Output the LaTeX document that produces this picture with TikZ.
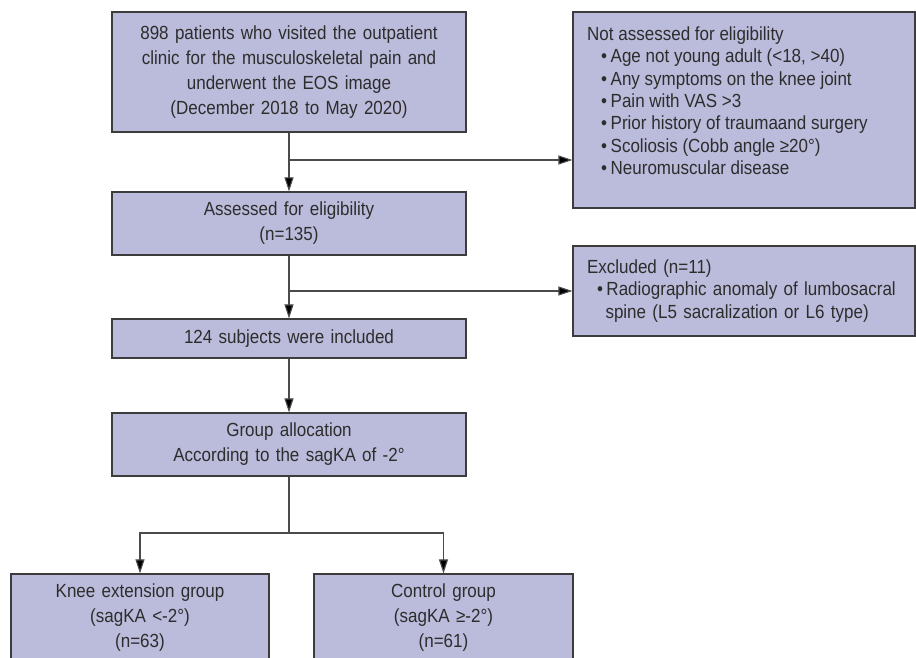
\documentclass[tikz,border=0pt]{standalone}
\usepackage{fontspec}
\setmainfont{Liberation Sans}[FakeStretch=0.895]
\usetikzlibrary{arrows.meta,calc}
\definecolor{boxfill}{RGB}{187,187,219}
\definecolor{boxline}{RGB}{60,60,60}
\definecolor{conn}{RGB}{75,75,75}
\definecolor{txt}{RGB}{45,45,45}
\tikzset{
  cbox/.style={draw=boxline, line width=1.2pt, fill=boxfill, inner sep=0pt,
    text=txt, align=center, text width=340pt,
    font=\fontsize{19}{25}\selectfont},
  rbox/.style={draw=boxline, line width=1.2pt, fill=boxfill, inner sep=0pt,
    minimum width=342pt, text width=320pt, inner xsep=11pt, align=left,
    text=txt, font=\fontsize{19}{22.4}\selectfont},
  rtext/.style={inner sep=0pt, align=left, text=txt,
    font=\fontsize{19}{22.4}\selectfont},
  conline/.style={draw=conn, line width=1.1pt},
  arr/.style={conline, -{Triangle[length=14pt,width=9pt,fill=black]}}
}
\newcommand{\bul}[1]{\hspace*{#1}\makebox[9.5pt][l]{•}}
\begin{document}
\begin{tikzpicture}[x=1pt,y=-1pt]
\clip (0,0) rectangle (916,658);
\fill[white] (0,0) rectangle (916,658);
% left column
\node[cbox, minimum width=354pt, minimum height=120pt] (b1) at (289,72)
  {898 patients who visited the outpatient\\clinic for the musculoskeletal pain and\\underwent the EOS image\\(December 2018 to May 2020)};
\node[cbox, minimum width=354pt, minimum height=63pt] (b2) at (289,223.5)
  {Assessed for eligibility\\(n=135)};
\node[cbox, minimum width=354pt, minimum height=39pt] (b3) at (289,338.5)
  {124 subjects were included};
\node[cbox, minimum width=354pt, minimum height=63pt] (b4) at (289,444.5)
  {Group allocation\\According to the sagKA of -2°};
\node[cbox, text width=250pt, minimum width=258pt, minimum height=88pt] (knee) at (140,618)
  {Knee extension group\\(sagKA <-2°)\\(n=63)};
\node[cbox, text width=250pt, minimum width=259pt, minimum height=88pt] (ctrl) at (443.5,618)
  {Control group\\(sagKA ≥-2°)\\(n=61)};
% right column
\node[rbox, minimum height=196pt] (nab) at (744,110) {};
\node[rtext, anchor=north west] (nabtxt) at (587,26.4)
  {Not assessed for eligibility\\
   \bul{14pt}Age not young adult (<18, >40)\\
   \bul{14pt}Any symptoms on the knee joint\\
   \bul{14pt}Pain with VAS >3\\
   \bul{14pt}Prior history of traumaand surgery\\
   \bul{14pt}Scoliosis (Cobb angle ≥20°)\\
   \bul{14pt}Neuromuscular disease};
\node[rbox, minimum height=90pt] (exc) at (744,291)
  {\hspace*{3pt}Excluded (n=11)\\
   \bul{13pt}Radiographic anomaly of lumbosacral\\
   \hspace*{21.5pt}spine (L5 sacralization or L6 type)};
% connectors
\coordinate (j1) at (289,160);
\coordinate (j2) at (289,291);
\coordinate (j3) at (289,533);
\draw[arr] (b1.south) -- (b2.north);
\draw[arr] (j1) -- (j1 -| nab.west);
\draw[arr] (b2.south) -- (b3.north);
\draw[arr] (j2) -- (j2 -| exc.west);
\draw[arr] (b3.south) -- (b4.north);
\draw[conline] (b4.south) -- (j3);
\draw[arr] (j3) -| (knee.north);
\draw[arr] (j3) -| (ctrl.north);
\end{tikzpicture}
\end{document}
